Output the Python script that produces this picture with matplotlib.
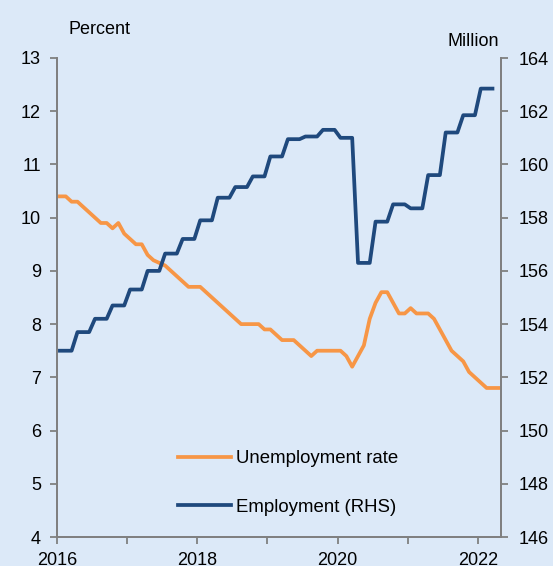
import matplotlib.pyplot as plt
import numpy as np

# unemployment rate, monthly from Jan 2016 (percent)
unemp = [10.4, 10.4, 10.3, 10.3, 10.2, 10.1, 10.0, 9.9, 9.9, 9.8, 9.9, 9.7,
         9.6, 9.5, 9.5, 9.3, 9.2, 9.15, 9.1, 9.0, 8.9, 8.8, 8.7, 8.7,
         8.7, 8.6, 8.5, 8.4, 8.3, 8.2, 8.1, 8.0, 8.0, 8.0, 8.0, 7.9,
         7.9, 7.8, 7.7, 7.7, 7.7, 7.6, 7.5, 7.4, 7.5, 7.5, 7.5, 7.5,
         7.5, 7.4, 7.2, 7.4, 7.6, 8.1, 8.4, 8.6, 8.6, 8.4, 8.2, 8.2,
         8.3, 8.2, 8.2, 8.2, 8.1, 7.9, 7.7, 7.5, 7.4, 7.3, 7.1, 7.0,
         6.9, 6.8, 6.8, 6.8]

# employment, quarterly from 2016Q1 (million)
emp_q = [153.0, 153.7, 154.2, 154.7,
         155.3, 156.0, 156.65, 157.2,
         157.9, 158.75, 159.15, 159.55,
         160.3, 160.95, 161.05, 161.3,
         161.0, 156.3, 157.85, 158.5,
         158.35, 159.6, 161.2, 161.85,
         162.85]

years = [2016, 2018, 2020, 2022]
minor_years = [2017, 2019, 2021]

orange = '#f79646'
blue = '#1f497d'
bg = '#dce9f8'
grey = '#808080'

plt.rcParams['font.family'] = ['Liberation Sans', 'DejaVu Sans']
plt.rcParams['font.size'] = 13

emp = np.repeat(emp_q, 3)
x_u = 2016 + (np.arange(len(unemp)) + 0.5) / 12
x_e = 2016 + (np.arange(len(emp)) + 0.5) / 12

fig = plt.figure(figsize=(5.53, 5.66), dpi=100, facecolor=bg)
ax = fig.add_axes([57/553, 1 - 537/566, (501 - 57)/553, (537 - 58)/566])
ax.set_facecolor(bg)
ax2 = ax.twinx()

l1, = ax.plot(x_u, unemp, color=orange, lw=2.7, label='Unemployment rate')
l2, = ax2.plot(x_e, emp, color=blue, lw=2.7, label='Employment (RHS)')

ax.set_xlim(2016, 2022.33)
ax.set_ylim(4, 13)
ax2.set_ylim(146, 164)
ax.set_yticks(range(4, 14))
ax2.set_yticks(range(146, 165, 2))
ax.set_xticks(years)
ax.set_xticks(minor_years, minor=True)

for a in (ax, ax2):
    for s in a.spines.values():
        s.set_color(grey)
        s.set_linewidth(1.3)
    a.spines['top'].set_visible(False)
    a.tick_params(which='both', color=grey, width=1.3, length=5)
ax.tick_params(axis='y', pad=6.5)
ax2.tick_params(axis='y', pad=7.5)
ax.tick_params(axis='x', pad=6)

ax2.legend(handles=[l1, l2], frameon=False, loc='upper left',
           bbox_to_anchor=(0.234, 0.216), handlelength=2.85,
           handletextpad=0.3, labelspacing=1.7, fontsize=13.4)

fig.text(69/553, 1 - 29/566, 'Percent', va='center', fontsize=13)
fig.text(499/553, 1 - 42/566, 'Million', va='center', ha='right', fontsize=13)

fig.savefig('out.png', dpi=100, facecolor=bg)
